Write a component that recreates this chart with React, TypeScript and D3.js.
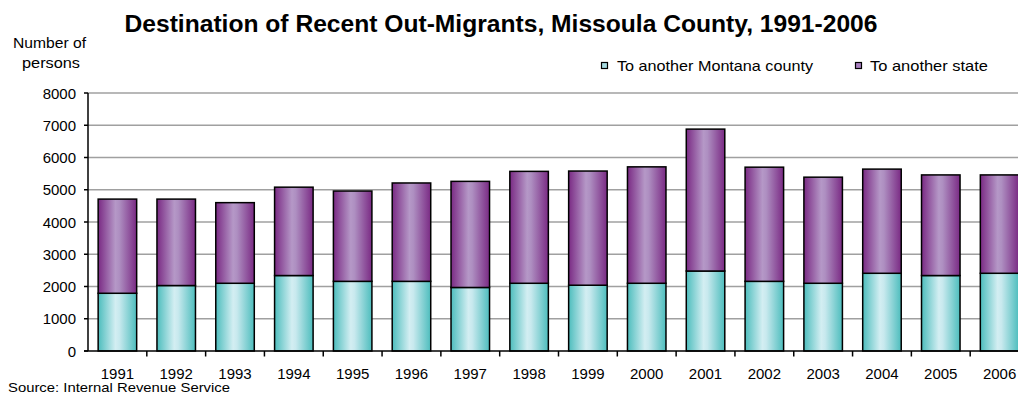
import React from "react";
import * as d3 from "d3";

const years = ["1991","1992","1993","1994","1995","1996","1997","1998","1999","2000","2001","2002","2003","2004","2005","2006"];
const toMontanaCounty = [1790, 2030, 2100, 2340, 2160, 2160, 1970, 2100, 2040, 2100, 2480, 2160, 2100, 2410, 2340, 2410];
const toAnotherState = [2920, 2680, 2500, 2740, 2800, 3050, 3290, 3470, 3540, 3610, 4400, 3540, 3290, 3230, 3120, 3050];
const yTicks = [0, 1000, 2000, 3000, 4000, 5000, 6000, 7000, 8000];
const seriesNames = ["To another Montana county", "To another state"];

const W = 1018;
const H = 403;
const FONT = "'Liberation Sans', Arial, Helvetica, sans-serif";

export default function App() {
  const x = d3.scaleBand<string>().domain(years).range([88, 1029]).paddingInner(0.345).paddingOuter(0.1725);
  const y = d3.scaleLinear().domain([0, 8000]).range([351, 93]);
  const step = x.step();
  const bw = x.bandwidth();
  const stack = d3.stack<number>().keys(["m", "s"]).value((i, k) => (k === "m" ? toMontanaCounty[i] : toAnotherState[i]));
  const series = stack(years.map((_, i) => i));
  const fills = ["url(#gTeal)", "url(#gPurple)"];

  return (
    <svg width={W} height={H} style={{ position: "absolute", left: 0, top: 0, display: "block" }} fontFamily={FONT}>
      <defs>
        <linearGradient id="gTeal" x1="0" x2="1" y1="0" y2="0">
          <stop offset="0" stopColor="#4dbdbd" />
          <stop offset="0.45" stopColor="#d3eef2" />
          <stop offset="0.55" stopColor="#c8e9ee" />
          <stop offset="1" stopColor="#4dbdbd" />
        </linearGradient>
        <linearGradient id="gPurple" x1="0" x2="1" y1="0" y2="0">
          <stop offset="0" stopColor="#7a2a84" />
          <stop offset="0.45" stopColor="#b598c7" />
          <stop offset="0.55" stopColor="#ae8fc1" />
          <stop offset="1" stopColor="#7a2a84" />
        </linearGradient>
      </defs>
      <rect x={0} y={0} width={W} height={H} fill="#ffffff" />

      <text x={501} y={32} textAnchor="middle" fontSize={23} fontWeight="bold" textLength={753} lengthAdjust="spacingAndGlyphs" fill="#000">
        Destination of Recent Out-Migrants, Missoula County, 1991-2006
      </text>
      <text x={13} y={48} fontSize={14} textLength={73} lengthAdjust="spacingAndGlyphs">Number of</text>
      <text x={22} y={68} fontSize={14} textLength={58} lengthAdjust="spacingAndGlyphs">persons</text>

      {/* legend */}
      <rect x={601.5} y={62.5} width={6} height={6} fill="#a6dbe0" stroke="#000" strokeWidth={1.2} />
      <text x={617} y={71} fontSize={15} textLength={196} lengthAdjust="spacingAndGlyphs">{seriesNames[0]}</text>
      <rect x={855.5} y={62.5} width={6} height={6} fill="#a87fbf" stroke="#000" strokeWidth={1.2} />
      <text x={870} y={71} fontSize={15} textLength={118} lengthAdjust="spacingAndGlyphs">{seriesNames[1]}</text>

      {/* gridlines */}
      {yTicks.filter((t) => t > 0).map((t) => (
        <line key={t} x1={88} x2={W} y1={y(t)} y2={y(t)} stroke="#a0a0a0" strokeWidth={1.6} />
      ))}

      {/* bars */}
      {series.map((s, si) =>
        s.map((d, i) => (
          <rect
            key={si + "-" + i}
            x={x(years[i])!}
            y={y(d[1])}
            width={bw}
            height={y(d[0]) - y(d[1])}
            fill={fills[si]}
            stroke="#000"
            strokeWidth={1.5}
          />
        ))
      )}

      {/* y axis */}
      <line x1={88} x2={88} y1={93} y2={351} stroke="#000" strokeWidth={1.5} />
      {yTicks.map((t) => (
        <g key={t}>
          <line x1={84} x2={88} y1={y(t)} y2={y(t)} stroke="#000" strokeWidth={1.5} />
          <text x={76} y={y(t) + 5.5} textAnchor="end" fontSize={15}>{t}</text>
        </g>
      ))}

      {/* x axis */}
      <line x1={84} x2={W} y1={351} y2={351} stroke="#000" strokeWidth={1.5} />
      {years.map((yr) => {
        const bx = x(yr)! + bw + (step - bw) / 2;
        return (
          <g key={yr}>
            <line x1={bx} x2={bx} y1={351} y2={356.5} stroke="#000" strokeWidth={1.5} />
            <text x={x(yr)! + bw / 2} y={378.5} textAnchor="middle" fontSize={15}>{yr}</text>
          </g>
        );
      })}

      <text x={8} y={392} fontSize={13} textLength={222} lengthAdjust="spacingAndGlyphs">Source: Internal Revenue Service</text>
    </svg>
  );
}
